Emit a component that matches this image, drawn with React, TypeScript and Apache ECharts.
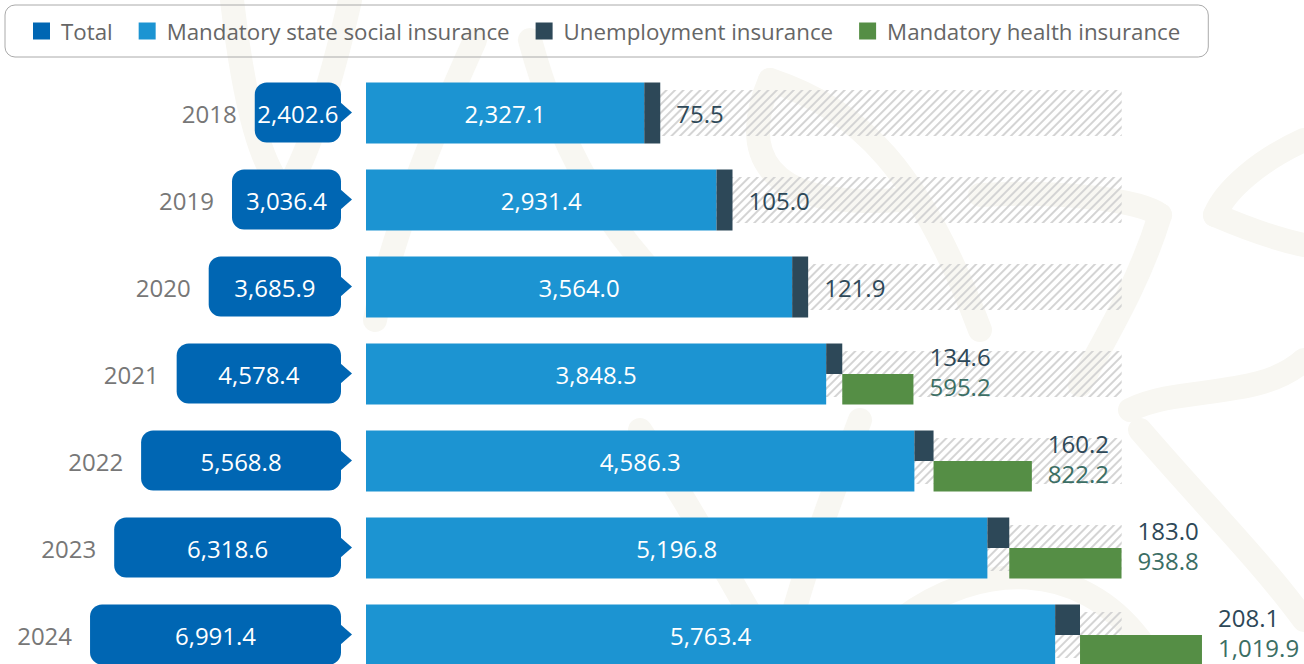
import React, { useEffect, useRef } from 'react';
import * as echarts from 'echarts';

// ---------- data ----------
const years = ['2018', '2019', '2020', '2021', '2022', '2023', '2024'];
const totals = [2402.6, 3036.4, 3685.9, 4578.4, 5568.8, 6318.6, 6991.4];
const stateInsurance = [2327.1, 2931.4, 3564.0, 3848.5, 4586.3, 5196.8, 5763.4];
const unemploymentInsurance = [75.5, 105.0, 121.9, 134.6, 160.2, 183.0, 208.1];
const healthInsurance: (number | null)[] = [null, null, null, 595.2, 822.2, 938.8, 1019.9];
const backgroundExtent = 6320;
const seriesNames = ['Total', 'Mandatory state social insurance', 'Unemployment insurance', 'Mandatory health insurance'];

// ---------- style ----------
const FONT = '"Open Sans", "Noto Sans", sans-serif';
const C = {
  total: '#0066b3',
  state: '#1c94d2',
  unemp: '#2d4858',
  health: '#558e45',
  hatch: '#d4d4d4',
  year: '#777777',
  legendText: '#666666',
  unempLabel: '#2d4858',
  healthLabel: '#3b6e64',
  watermark: '#f8f7f2',
};
const BAR_H = 61;
const LABEL_SIZE = 24;
const VIEW_H = 664;

const fmt = (v: number) =>
  v.toLocaleString('en-US', { minimumFractionDigits: 1, maximumFractionDigits: 1 });

function unempSpan(api: any, i: number): [number, number] {
  const x0 = api.coord([stateInsurance[i], i])[0];
  const x1 = api.coord([stateInsurance[i] + unemploymentInsurance[i], i])[0];
  return [x0, Math.max(x1, x0 + 16)];
}

function healthEnd(api: any, i: number): number {
  const h = healthInsurance[i] as number;
  const [, u1] = unempSpan(api, i);
  const w = api.coord([h, i])[0] - api.coord([0, i])[0];
  return u1 + w;
}

// vertical positions of the two stacked labels (kept inside the visible page)
function pairLabelY(cy: number): [number, number] {
  const lower = Math.min(cy + 12, VIEW_H - 17);
  const upper = Math.min(cy - 18, lower - 28);
  return [upper, lower];
}

function textEl(x: number, y: number, text: string, fill: string, align: string) {
  return {
    type: 'text',
    x,
    y,
    style: {
      text,
      fill,
      fontSize: LABEL_SIZE,
      fontFamily: FONT,
      align,
      verticalAlign: 'middle',
    },
  };
}

function wm(shape: any) {
  return {
    type: 'bezierCurve',
    silent: true,
    z: -10,
    shape,
    style: { stroke: C.watermark, lineWidth: 24, fill: null, lineCap: 'round' },
  };
}

export default function App() {
  const ref = useRef<HTMLDivElement>(null);

  useEffect(() => {
    if (!ref.current) return;
    const chart = echarts.init(ref.current, null, { renderer: 'svg' });

    const option: any = {
      animation: false,
      backgroundColor: '#ffffff',
      textStyle: { fontFamily: FONT },
      legend: {
        data: seriesNames,
        left: 5,
        top: 5,
        icon: 'rect',
        itemWidth: 17,
        itemHeight: 17,
        itemGap: 26,
        padding: [14, 28, 14, 28],
        borderColor: '#aaaaaa',
        borderWidth: 1,
        borderRadius: 10,
        selectedMode: false,
        textStyle: {
          color: C.legendText,
          fontSize: 22.3,
          fontFamily: FONT,
          lineHeight: 24,
          padding: [0, 0, 0, 6],
        },
      },
      graphic: [
        wm({ x1: 232, y1: 0, cpx1: 245, cpy1: 110, cpx2: 262, cpy2: 170, x2: 286, y2: 192 }),
        wm({ x1: 286, y1: 192, cpx1: 310, cpy1: 150, cpx2: 332, cpy2: 80, x2: 350, y2: 0 }),
        wm({ x1: 475, y1: 40, cpx1: 430, cpy1: 140, cpx2: 390, cpy2: 240, x2: 375, y2: 320 }),
        wm({ x1: 530, y1: 40, cpx1: 560, cpy1: 150, cpx2: 610, cpy2: 230, x2: 660, y2: 280 }),
        wm({ x1: 770, y1: 80, cpx1: 740, cpy1: 150, cpx2: 760, cpy2: 210, x2: 900, y2: 200 }),
        wm({ x1: 770, y1: 80, cpx1: 860, cpy1: 110, cpx2: 920, cpy2: 170, x2: 980, y2: 330 }),
        wm({ x1: 980, y1: 195, cpx1: 1060, cpy1: 190, cpx2: 1140, cpy2: 200, x2: 1160, y2: 215 }),
        wm({ x1: 1160, y1: 215, cpx1: 1140, cpy1: 280, cpx2: 1110, cpy2: 330, x2: 1080, y2: 385 }),
        wm({ x1: 1304, y1: 140, cpx1: 1260, cpy1: 160, cpx2: 1225, cpy2: 190, x2: 1215, y2: 215 }),
        wm({ x1: 1215, y1: 215, cpx1: 1250, cpy1: 230, cpx2: 1280, cpy2: 240, x2: 1304, y2: 245 }),
        wm({ x1: 1140, y1: 430, cpx1: 1200, cpy1: 500, cpx2: 1260, cpy2: 560, x2: 1304, y2: 620 }),
        wm({ x1: 1130, y1: 410, cpx1: 1180, cpy1: 385, cpx2: 1260, cpy2: 400, x2: 1304, y2: 360 }),
        wm({ x1: 860, y1: 420, cpx1: 830, cpy1: 500, cpx2: 800, cpy2: 580, x2: 780, y2: 664 }),
        wm({ x1: 640, y1: 430, cpx1: 700, cpy1: 520, cpx2: 740, cpy2: 600, x2: 780, y2: 664 }),
        wm({ x1: 900, y1: 620, cpx1: 980, cpy1: 560, cpx2: 1080, cpy2: 560, x2: 1140, y2: 640 }),
      ],
      grid: [
        { left: 0, top: 69.5, width: 341, height: 609 },
        { left: 366, top: 69.5, width: 837, height: 609 },
      ],
      xAxis: [
        { type: 'value', gridIndex: 0, min: 0, max: 9500, inverse: true, show: false },
        { type: 'value', gridIndex: 1, min: 0, max: 7000, show: false },
      ],
      yAxis: [
        { type: 'category', gridIndex: 0, data: years, inverse: true, show: false },
        { type: 'category', gridIndex: 1, data: years, inverse: true, show: false },
      ],
      series: [
        {
          name: 'background',
          type: 'bar',
          xAxisIndex: 1,
          yAxisIndex: 1,
          data: years.map(() => backgroundExtent),
          barWidth: 46,
          silent: true,
          z: 1,
          itemStyle: {
            color: 'rgba(255,255,255,0)',
            decal: {
              symbol: 'rect',
              symbolSize: 1,
              color: C.hatch,
              backgroundColor: 'rgba(255,255,255,0)',
              dashArrayX: [1, 0],
              dashArrayY: [1.1, 4],
              rotation: -Math.PI / 4,
            },
          },
        },
        {
          name: 'Total',
          type: 'custom',
          xAxisIndex: 0,
          yAxisIndex: 0,
          z: 3,
          itemStyle: { color: C.total },
          encode: { x: 0, y: 1 },
          data: totals.map((v, i) => [v, i]),
          renderItem: (params: any, api: any) => {
            const i = api.value(1);
            const v = api.value(0);
            const r = api.coord([0, i]);
            const l = api.coord([v, i]);
            const cy = r[1];
            const x0 = l[0];
            const x1 = r[0];
            return {
              type: 'group',
              children: [
                {
                  type: 'rect',
                  shape: { x: x0, y: cy - BAR_H / 2, width: x1 - x0, height: BAR_H - 1, r: 12 },
                  style: { fill: C.total },
                },
                {
                  type: 'polygon',
                  shape: { points: [[x1 - 1, cy - 11], [x1 + 11, cy - 0.5], [x1 - 1, cy + 10]] },
                  style: { fill: C.total },
                },
                textEl((x0 + x1) / 2, cy, fmt(v), '#ffffff', 'center'),
                textEl(x0 - 18, cy, years[i], C.year, 'right'),
              ],
            };
          },
        },
        {
          name: 'Mandatory state social insurance',
          type: 'custom',
          xAxisIndex: 1,
          yAxisIndex: 1,
          z: 3,
          itemStyle: { color: C.state },
          encode: { x: 0, y: 1 },
          data: stateInsurance.map((v, i) => [v, i]),
          renderItem: (params: any, api: any) => {
            const i = api.value(1);
            const v = api.value(0);
            const s = api.coord([0, i]);
            const e = api.coord([v, i]);
            const cy = s[1];
            return {
              type: 'group',
              children: [
                {
                  type: 'rect',
                  shape: { x: s[0], y: cy - BAR_H / 2, width: e[0] - s[0], height: BAR_H },
                  style: { fill: C.state },
                },
                textEl((s[0] + e[0]) / 2, cy, fmt(v), '#ffffff', 'center'),
              ],
            };
          },
        },
        {
          name: 'Unemployment insurance',
          type: 'custom',
          xAxisIndex: 1,
          yAxisIndex: 1,
          z: 3,
          itemStyle: { color: C.unemp },
          encode: { x: 0, y: 1 },
          data: unemploymentInsurance.map((v, i) => [v, i]),
          renderItem: (params: any, api: any) => {
            const i = api.value(1);
            const v = api.value(0);
            const cy = api.coord([0, i])[1];
            const [u0, u1] = unempSpan(api, i);
            const hasHealth = healthInsurance[i] != null;
            const children: any[] = [
              {
                type: 'rect',
                shape: {
                  x: u0,
                  y: cy - BAR_H / 2,
                  width: u1 - u0,
                  height: hasHealth ? BAR_H / 2 : BAR_H,
                },
                style: { fill: C.unemp },
              },
            ];
            if (hasHealth) {
              const [uy] = pairLabelY(cy);
              children.push(textEl(healthEnd(api, i) + 16, uy, fmt(v), C.unempLabel, 'left'));
            } else {
              children.push(textEl(u1 + 16, cy, fmt(v), C.unempLabel, 'left'));
            }
            return { type: 'group', children };
          },
        },
        {
          name: 'Mandatory health insurance',
          type: 'custom',
          xAxisIndex: 1,
          yAxisIndex: 1,
          z: 3,
          itemStyle: { color: C.health },
          encode: { x: 0, y: 1 },
          data: healthInsurance
            .map((v, i) => (v == null ? null : [v, i]))
            .filter((d) => d != null),
          renderItem: (params: any, api: any) => {
            const i = api.value(1);
            const v = api.value(0);
            const cy = api.coord([0, i])[1];
            const [, u1] = unempSpan(api, i);
            const he = healthEnd(api, i);
            const [, ly] = pairLabelY(cy);
            return {
              type: 'group',
              children: [
                {
                  type: 'rect',
                  shape: { x: u1, y: cy, width: he - u1, height: BAR_H / 2 },
                  style: { fill: C.health },
                },
                textEl(he + 16, ly, fmt(v), C.healthLabel, 'left'),
              ],
            };
          },
        },
      ],
    };

    chart.setOption(option);
    return () => chart.dispose();
  }, []);

  return (
    <div
      ref={ref}
      style={{ position: 'fixed', left: 0, top: 0, width: 1304, height: 720, background: '#fff' }}
    />
  );
}
